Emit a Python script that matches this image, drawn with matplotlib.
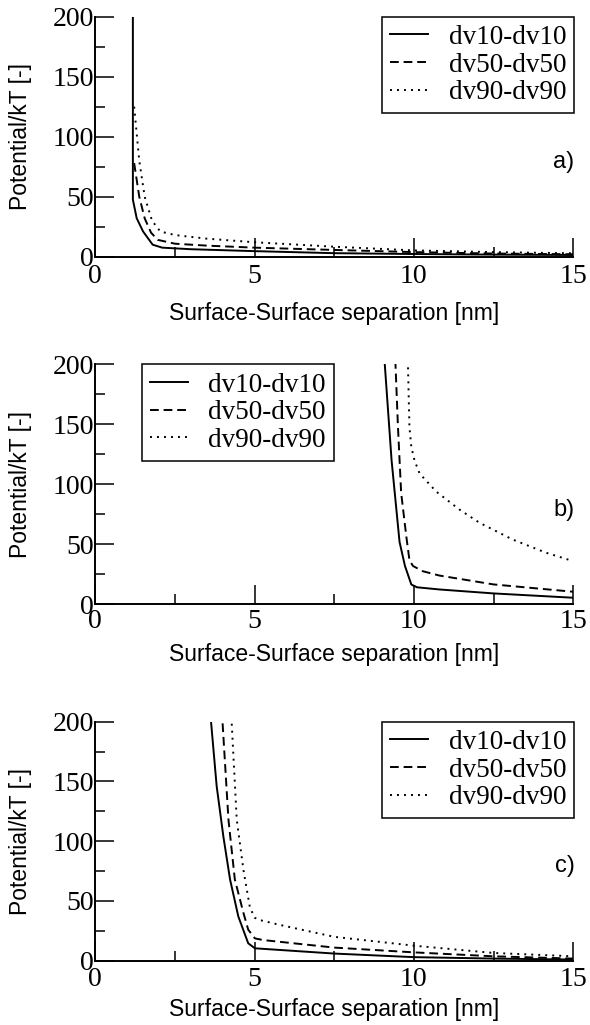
import matplotlib
matplotlib.use('Agg')
import matplotlib.pyplot as plt
from matplotlib.ticker import MultipleLocator

# panel a
a_dv10_x = [1.18, 1.18, 1.3, 1.5, 1.8, 2.1, 3.0, 5.0, 7.5, 10.0, 12.5, 15.0]
a_dv10_y = [230, 47.5, 32, 21, 10, 7.5, 6.2, 4.6, 2.9, 2.2, 1.7, 1.4]
a_dv50_x = [1.22, 1.38, 1.55, 1.75, 1.96, 2.5, 3.5, 5.0, 7.5, 10.0, 12.5, 15.0]
a_dv50_y = [78, 50, 32, 20, 14, 10.8, 9.2, 7.5, 5.6, 3.8, 2.6, 2.0]
a_dv90_x = [1.22, 1.38, 1.55, 1.78, 2.04, 2.5, 3.5, 5.0, 7.5, 10.0, 12.5, 15.0]
a_dv90_y = [125, 80, 50, 30, 21, 18, 15, 12, 8.3, 5.2, 3.8, 2.8]

# panel b
b_dv10_x = [9.02, 9.3, 9.55, 9.72, 9.92, 10.1, 10.8, 12.5, 15.0]
b_dv10_y = [225, 120, 52, 32, 16.5, 14.2, 12.4, 9.1, 5.5]
b_dv50_x = [9.4, 9.5, 9.6, 9.76, 9.86, 9.97, 10.28, 10.8, 12.5, 15.0]
b_dv50_y = [215, 148, 93, 57, 37, 32, 27.6, 24, 16.6, 10.5]
b_dv90_x = [9.8, 9.86, 9.92, 10.02, 10.18, 10.7, 11.43, 12.06, 13.1, 14.15, 15.0]
b_dv90_y = [215, 148, 131, 120, 109, 94, 79, 68, 54, 43, 36]

# panel c
c_dv10_x = [3.6, 3.81, 4.02, 4.23, 4.49, 4.8, 5.01, 7.5, 10.0, 12.5, 15.0]
c_dv10_y = [210, 146, 104, 68, 37, 14.6, 10.4, 6.0, 3.0, 1.8, 1.0]
c_dv50_x = [3.97, 4.18, 4.38, 4.65, 4.8, 5.01, 5.27, 7.5, 10.0, 12.5, 15.0]
c_dv50_y = [210, 118, 68, 40, 26, 18.7, 17.3, 11, 7, 3.7, 1.8]
c_dv90_x = [4.26, 4.44, 4.65, 4.85, 5.0, 5.17, 5.79, 7.5, 10.0, 12.5, 15.0]
c_dv90_y = [210, 118, 76, 45, 36, 34, 30, 20, 12.6, 6.5, 3.7]

labels = ['dv10-dv10', 'dv50-dv50', 'dv90-dv90']
styles = ['-', (0, (4.5, 2.5)), (0, (1, 2.6))]
panel_names = ['a)', 'b)', 'c)']

SERIF = 'Liberation Serif'
SANS = 'Liberation Sans'


def draw_panel(ax, series, name, legend_kw, xpad, xlabel_y):
    for (xs, ys), style, label in zip(series, styles, labels):
        ax.plot(xs, ys, color='black', linestyle=style, linewidth=1.4, label=label)

    ax.set_xlim(0, 15)
    ax.set_ylim(0, 200)
    ax.xaxis.set_major_locator(MultipleLocator(5))
    ax.xaxis.set_minor_locator(MultipleLocator(2.5))
    ax.yaxis.set_major_locator(MultipleLocator(50))
    ax.yaxis.set_minor_locator(MultipleLocator(25))

    for side in ['top', 'right']:
        ax.spines[side].set_visible(False)
    for side in ['left', 'bottom']:
        ax.spines[side].set_linewidth(1.4)

    ax.tick_params(which='major', direction='in', length=13.5, width=1.1)
    ax.tick_params(which='minor', direction='in', length=7, width=1.1)
    ax.tick_params(axis='x', which='major', pad=xpad)
    ax.tick_params(axis='y', which='major', pad=1)
    for lbl in ax.get_xticklabels() + ax.get_yticklabels():
        lbl.set_fontfamily(SERIF)
        lbl.set_fontsize(20)

    ax.set_xlabel('Surface-Surface separation [nm]', fontfamily=SANS, fontsize=16.5, va='center')
    ax.xaxis.set_label_coords(0.5, xlabel_y)
    ax.set_ylabel('Potential/kT [-]', fontfamily=SANS, fontsize=16.5, va='center')
    ax.yaxis.set_label_coords(-0.156, 0.5)

    ax.text(1.003, 0.395, name, transform=ax.transAxes, ha='right', va='center',
            fontfamily=SANS, fontsize=17)

    leg = ax.legend(prop={'family': SERIF, 'size': 19.5}, fancybox=False, frameon=True,
                    edgecolor='black', framealpha=1, borderaxespad=0, handlelength=1.4,
                    handletextpad=0.75, borderpad=0.3, labelspacing=0.1, **legend_kw)
    leg.get_frame().set_linewidth(1.1)


fig = plt.figure(figsize=(5.9, 10.25), dpi=100)
left, width = 0.1615, 0.810
ax_a = fig.add_axes([left, 0.7496, width, 0.2341])
ax_b = fig.add_axes([left, 0.4104, width, 0.2341])
ax_c = fig.add_axes([left, 0.0627, width, 0.2332])

draw_panel(ax_a, [(a_dv10_x, a_dv10_y), (a_dv50_x, a_dv50_y), (a_dv90_x, a_dv90_y)],
           panel_names[0], dict(loc='upper right', bbox_to_anchor=(1.002, 1.0)), 5.5, -0.235)
draw_panel(ax_b, [(b_dv10_x, b_dv10_y), (b_dv50_x, b_dv50_y), (b_dv90_x, b_dv90_y)],
           panel_names[1], dict(loc='upper left', bbox_to_anchor=(0.098, 1.0)), 3.0, -0.211)
draw_panel(ax_c, [(c_dv10_x, c_dv10_y), (c_dv50_x, c_dv50_y), (c_dv90_x, c_dv90_y)],
           panel_names[2], dict(loc='upper right', bbox_to_anchor=(1.002, 1.0)), 4.5, -0.206)

fig.savefig('out.png', dpi=100)
